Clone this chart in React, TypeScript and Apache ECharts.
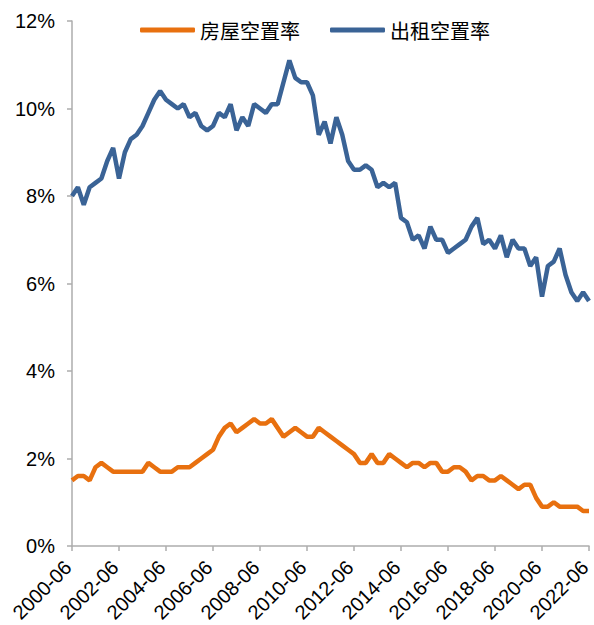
import React, { useEffect, useRef } from "react";
import * as echarts from "echarts";

// Quarterly, 2000-06 .. 2022-06
const homeVacancy: number[] = [
  1.5, 1.6, 1.6,
  1.5, 1.8, 1.9, 1.8,
  1.7, 1.7, 1.7, 1.7,
  1.7, 1.7, 1.9, 1.8,
  1.7, 1.7, 1.7, 1.8,
  1.8, 1.8, 1.9, 2.0,
  2.1, 2.2, 2.5, 2.7,
  2.8, 2.6, 2.7, 2.8,
  2.9, 2.8, 2.8, 2.9,
  2.7, 2.5, 2.6, 2.7,
  2.6, 2.5, 2.5, 2.7,
  2.6, 2.5, 2.4, 2.3,
  2.2, 2.1, 1.9, 1.9,
  2.1, 1.9, 1.9, 2.1,
  2.0, 1.9, 1.8, 1.9,
  1.9, 1.8, 1.9, 1.9,
  1.7, 1.7, 1.8, 1.8,
  1.7, 1.5, 1.6, 1.6,
  1.5, 1.5, 1.6, 1.5,
  1.4, 1.3, 1.4, 1.4,
  1.1, 0.9, 0.9, 1.0,
  0.9, 0.9, 0.9, 0.9,
  0.8, 0.8,
];

const rentalVacancy: number[] = [
  8.0, 8.2, 7.8,
  8.2, 8.3, 8.4, 8.8,
  9.1, 8.4, 9.0, 9.3,
  9.4, 9.6, 9.9, 10.2,
  10.4, 10.2, 10.1, 10.0,
  10.1, 9.8, 9.9, 9.6,
  9.5, 9.6, 9.9, 9.8,
  10.1, 9.5, 9.8, 9.6,
  10.1, 10.0, 9.9, 10.1,
  10.1, 10.6, 11.1, 10.7,
  10.6, 10.6, 10.3, 9.4,
  9.7, 9.2, 9.8, 9.4,
  8.8, 8.6, 8.6, 8.7,
  8.6, 8.2, 8.3, 8.2,
  8.3, 7.5, 7.4, 7.0,
  7.1, 6.8, 7.3, 7.0,
  7.0, 6.7, 6.8, 6.9,
  7.0, 7.3, 7.5, 6.9,
  7.0, 6.8, 7.1, 6.6,
  7.0, 6.8, 6.8, 6.4,
  6.6, 5.7, 6.4, 6.5,
  6.8, 6.2, 5.8, 5.6,
  5.8, 5.6,
];

const seriesNames = ["房屋空置率", "出租空置率"];
const labelEvery = 8;

const categories: string[] = [];
{
  const months = ["03", "06", "09", "12"];
  let y = 2000;
  let q = 1;
  for (let i = 0; i < rentalVacancy.length; i++) {
    categories.push(`${y}-${months[q]}`);
    q++;
    if (q > 3) {
      q = 0;
      y++;
    }
  }
}

export default function App() {
  const ref = useRef<HTMLDivElement>(null);
  useEffect(() => {
    if (!ref.current) return;
    const chart = echarts.init(ref.current, undefined, { renderer: "svg" });
    const axisColor = "#ADADAD";
    chart.setOption({
      animation: false,
      backgroundColor: "#ffffff",
      legend: {
        left: 135,
        top: 15,
        itemWidth: 55,
        itemHeight: 5,
        itemGap: 30,
        icon: "roundRect",
        textStyle: {
          fontSize: 20,
          color: "#000",
          fontFamily: "Noto Sans CJK SC",
        },
        data: seriesNames,
      },
      grid: { left: 72, right: 5, top: 21, bottom: 79, containLabel: false },
      xAxis: {
        type: "category",
        data: categories,
        boundaryGap: false,
        axisLine: { lineStyle: { color: axisColor, width: 1.5 } },
        axisTick: {
          interval: labelEvery - 1,
          length: 5,
          lineStyle: { color: axisColor, width: 1.5 },
        },
        axisLabel: { show: false },
        splitLine: { show: false },
      },
      yAxis: {
        type: "value",
        min: 0,
        max: 12,
        interval: 2,
        axisLine: { show: true, lineStyle: { color: axisColor, width: 1.5 } },
        axisTick: { show: true, length: 5, lineStyle: { color: axisColor, width: 1.5 } },
        axisLabel: {
          formatter: "{value}%",
          margin: 17,
          fontSize: 20,
          color: "#000",
          fontFamily: "Liberation Sans",
        },
        splitLine: { show: false },
      },
      series: [
        {
          name: seriesNames[0],
          type: "line",
          data: homeVacancy,
          symbol: "none",
          itemStyle: { color: "#E8700F" },
          lineStyle: { color: "#E8700F", width: 4.5 },
        },
        {
          name: seriesNames[1],
          type: "line",
          data: rentalVacancy,
          symbol: "none",
          itemStyle: { color: "#3A6396" },
          lineStyle: { color: "#3A6396", width: 4.5 },
        },
      ],
    });

    // Rotated category labels, positioned through the chart's own x scale
    const labelTexts: any[] = [];
    categories.forEach((c, i) => {
      if (i % labelEvery !== 0) return;
      const p = chart.convertToPixel({ seriesIndex: 0 }, [i, 0]) as number[];
      if (!p) return;
      labelTexts.push({
        type: "text",
        x: p[0] - 4,
        y: p[1] + 18,
        rotation: Math.PI / 4,
        silent: true,
        style: {
          text: c,
          fontSize: 20,
          fill: "#000",
          fontFamily: "Liberation Sans",
          align: "right",
          verticalAlign: "middle",
        },
      });
    });
    chart.setOption({ graphic: labelTexts });

    return () => chart.dispose();
  }, []);
  return (
    <div
      ref={ref}
      style={{ position: "fixed", left: 0, top: 0, width: 594, height: 625 }}
    />
  );
}
